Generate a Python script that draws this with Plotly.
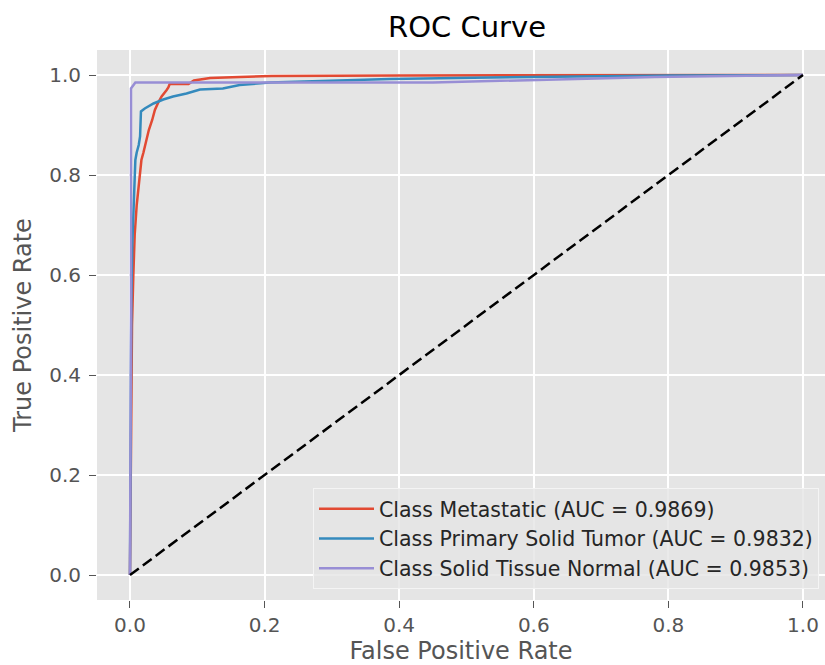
import plotly.graph_objects as go

# ---- data ----
metastatic_fpr = [0.0, 0.001, 0.002, 0.003, 0.005, 0.007, 0.010, 0.0135, 0.017, 0.020, 0.024, 0.028,
                  0.033, 0.037, 0.042, 0.047, 0.0545, 0.057, 0.059, 0.087, 0.095, 0.119, 0.163, 0.21,
                  0.40, 1.0]
metastatic_tpr = [0.0, 0.20, 0.40, 0.50, 0.60, 0.68, 0.74, 0.79, 0.83, 0.845, 0.87, 0.89,
                  0.91, 0.93, 0.945, 0.957, 0.97, 0.975, 0.982, 0.982, 0.989, 0.994, 0.996, 0.998,
                  0.999, 1.0]

primary_fpr = [0.0, 0.001, 0.002, 0.0034, 0.005, 0.006, 0.008, 0.010, 0.013, 0.015, 0.016, 0.0163,
               0.022, 0.035, 0.0495, 0.064, 0.084, 0.104, 0.138, 0.163, 0.208, 0.287, 0.386, 0.535,
               0.684, 0.80, 1.0]
primary_tpr = [0.0, 0.30, 0.55, 0.66, 0.72, 0.78, 0.83, 0.845, 0.86, 0.877, 0.90, 0.927,
               0.933, 0.943, 0.951, 0.957, 0.963, 0.971, 0.973, 0.980, 0.985, 0.988, 0.992, 0.995,
               0.997, 0.999, 1.0]

normal_fpr = [0.0, 0.0015, 0.0015, 0.006, 0.008, 0.45, 0.58, 0.68, 0.78, 1.0]
normal_tpr = [0.0, 0.50, 0.973, 0.980, 0.985, 0.985, 0.989, 0.992, 0.996, 1.0]

class_names = ["Metastatic", "Primary Solid Tumor", "Solid Tissue Normal"]
auc_values = [0.9869, 0.9832, 0.9853]
colors = ["#E24A33", "#348ABD", "#988ED5"]

tick_vals = [0.0, 0.2, 0.4, 0.6, 0.8, 1.0]
tick_text = ["0.0", "0.2", "0.4", "0.6", "0.8", "1.0"]

FONT = "DejaVu Sans"
W, H = 825, 665

fig = go.Figure()
series = [(metastatic_fpr, metastatic_tpr), (primary_fpr, primary_tpr), (normal_fpr, normal_tpr)]
for (fx, ty), name, auc, col in zip(series, class_names, auc_values, colors):
    fig.add_trace(go.Scatter(
        x=fx, y=ty, mode="lines",
        name=f"Class {name} (AUC = {auc:.4f})",
        line=dict(color=col, width=2.5),
    ))

fig.add_trace(go.Scatter(
    x=[0, 1], y=[0, 1], mode="lines", showlegend=False,
    line=dict(color="black", width=2.5, dash="11px,5px"),
))

fig.update_layout(
    width=W, height=H,
    margin=dict(l=97, r=0, t=50, b=65, autoexpand=False),
    paper_bgcolor="white",
    plot_bgcolor="#E5E5E5",
    font=dict(family=FONT, color="#555555", size=20),
    title=dict(text="ROC Curve", x=467 / W, xanchor="center", xref="container",
               y=1 - 27 / H, yanchor="middle", yref="container", automargin=False,
               font=dict(family=FONT, size=29, color="black")),
    legend=dict(
        x=(313 - 97) / 728, xanchor="left", y=0.02, yanchor="bottom",
        bgcolor="rgba(229,229,229,0.8)", bordercolor="#f4f4f4", borderwidth=1,
        font=dict(family=FONT, size=20.5, color="#262626"),
        tracegroupgap=0, itemwidth=55,
    ),
    xaxis=dict(
        range=[-0.049, 1.0327], tickmode="array", tickvals=tick_vals, ticktext=tick_text,
        showgrid=True, gridcolor="white", gridwidth=1.5, zeroline=False, showline=False,
        ticks="outside", ticklen=7, tickcolor="#555555", tickwidth=1.2, automargin=False,
        tickfont=dict(family=FONT, size=20, color="#555555"),
        title=dict(text="False Positive Rate", font=dict(family=FONT, size=24, color="#555555"),
                   standoff=7),
    ),
    yaxis=dict(
        range=[-0.05, 1.05], tickmode="array", tickvals=tick_vals, ticktext=tick_text,
        showgrid=True, gridcolor="white", gridwidth=1.5, zeroline=False, showline=False,
        ticks="outside", ticklen=7, tickcolor="#555555", tickwidth=1.2, automargin=False,
        ticklabelstandoff=4,
        tickfont=dict(family=FONT, size=20, color="#555555"),
        title=dict(text="True Positive Rate", font=dict(family=FONT, size=24, color="#555555"),
                   standoff=10),
    ),
)

fig.write_html(
    "out.html",
    config={"displayModeBar": False},
    post_script="document.body.style.margin='0px';"
                "document.documentElement.style.overflow='hidden';",
)
